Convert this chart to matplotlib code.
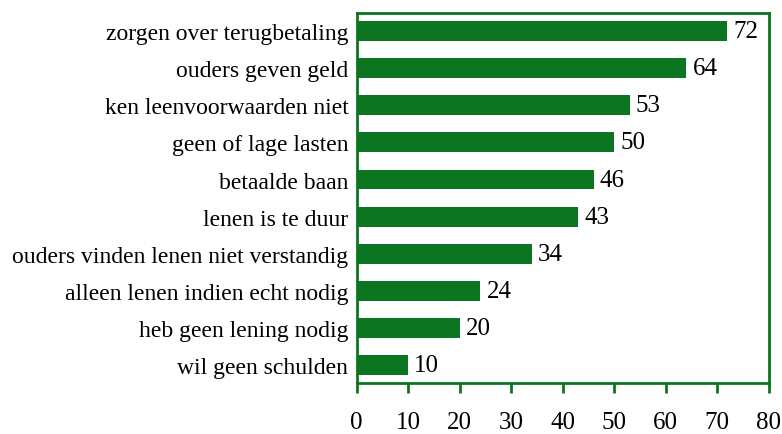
import matplotlib.pyplot as plt

plt.rcParams['font.family'] = 'Liberation Serif'

categories = ["zorgen over terugbetaling", "ouders geven geld", "ken leenvoorwaarden niet",
              "geen of lage lasten", "betaalde baan", "lenen is te duur",
              "ouders vinden lenen niet verstandig", "alleen lenen indien echt nodig",
              "heb geen lening nodig", "wil geen schulden"]
values = [72, 64, 53, 50, 46, 43, 34, 24, 20, 10]
xticks = [0, 10, 20, 30, 40, 50, 60, 70, 80]

green = '#0b7522'
fs = 17
fs_num = 18

fig = plt.figure(figsize=(7.82, 4.35), dpi=100)
ax = fig.add_axes([0.456, 0.117, 0.527, 0.851])

pos = list(range(len(categories)))[::-1]
ax.barh(pos, values, height=0.54, color=green)
for p, v in zip(pos, values):
    ax.text(v + 1.2, p, str(v), va='center', ha='left', fontsize=fs_num)

ax.set_xlim(0, 80)
ax.set_ylim(-0.5, len(categories) - 0.5)
ax.set_yticks(pos)
ax.set_yticklabels(categories, fontsize=fs)
ax.set_xticks(xticks)
ax.set_xticklabels([str(t) for t in xticks], fontsize=fs_num)
ax.tick_params(axis='y', length=0, pad=6)
ax.tick_params(axis='x', length=7, width=2, color=green, pad=13)
for s in ax.spines.values():
    s.set_color(green)
    s.set_linewidth(2)

fig.savefig('out.png', dpi=100)
